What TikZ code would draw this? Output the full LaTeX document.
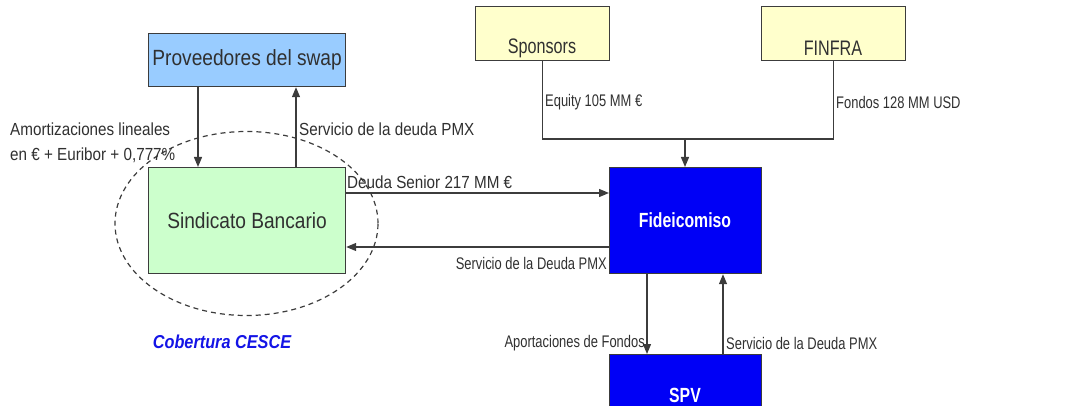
\documentclass[tikz,border=0pt]{standalone}
\usepackage{fontspec}
\setmainfont{Liberation Sans}
\newfontfamily\fA[FakeStretch=0.87]{Liberation Sans}
\newfontfamily\fB[FakeStretch=0.77]{Liberation Sans}
\usetikzlibrary{arrows.meta,calc}
\definecolor{provfill}{HTML}{99CCFF}
\definecolor{sindfill}{HTML}{CCFFCC}
\definecolor{sponfill}{HTML}{FFFFCC}
\definecolor{fidfill}{HTML}{0000F6}
\definecolor{linegray}{HTML}{3C3C3C}
\definecolor{txtgray}{HTML}{303030}
\definecolor{cesceblue}{HTML}{1414E6}
\tikzset{
  box/.style={draw=linegray, line width=1.2pt, inner sep=0pt, anchor=north west, text=txtgray},
  bluebox/.style={box, fill=fidfill},
  conn/.style={draw=linegray, line width=1.3pt},
  arr/.style={conn, -{Triangle[length=10pt,width=8pt]}},
  lbl/.style={inner sep=0pt, text=txtgray},
  lblA/.style={lbl, font=\fA\fontsize{17.5}{19}\selectfont},
  lblB/.style={lbl, font=\fB\fontsize{16.8}{18}\selectfont},
  bigtxt/.style={font=\fA\fontsize{22}{24}\selectfont},
  toptxt/.style={lbl, font=\fB\fontsize{21}{23}\selectfont},
  bluetxt/.style={inner sep=0pt, text=white, font=\fB\bfseries\fontsize{20.5}{22}\selectfont},
}
\begin{document}
\begin{tikzpicture}[x=1pt,y=-1pt]
\useasboundingbox (0,0) rectangle (1073,406);
\clip (0,0) rectangle (1073,406);
% ellipse (behind)
\coordinate (ellc) at (246.5,223.5);
\draw[linegray, line width=1.2pt, dash pattern=on 5pt off 4pt] (ellc) ellipse [x radius=131.5pt, y radius=92pt];
% boxes
\node[box, bigtxt, fill=provfill, minimum width=197pt, minimum height=53pt] (prov) at (148,33) {Proveedores del swap};
\node[box, bigtxt, fill=sindfill, minimum width=197pt, minimum height=106pt] (sind) at (148,167) {Sindicato Bancario};
\node[box, fill=sponfill, minimum width=134pt, minimum height=54pt] (spon) at (475,6) {};
\node[box, fill=sponfill, minimum width=144pt, minimum height=54pt] (fin) at (761,6) {};
\node[toptxt] (sponT) at (542,48) {Sponsors};
\node[toptxt] (finT) at (833,48) {FINFRA};
\node[bluebox, minimum width=152pt, minimum height=106pt] (fid) at (609,167) {};
\node[bluetxt] (fidT) at (685,220) {Fideicomiso};
\node[bluebox, minimum width=152pt, minimum height=82pt] (spv) at (609,354) {};
\node[bluetxt] (spvT) at (685,395) {SPV};
% connectors
\draw[arr] ([xshift=50pt]prov.south west) -- ([xshift=50pt]sind.north west);
\draw[arr] ([xshift=148pt]sind.north west) -- ([xshift=148pt]prov.south west);
\draw[arr] ([yshift=-26pt]sind.north east) -- ([yshift=-26pt]fid.north west);
\draw[arr] ([yshift=-80pt]fid.north west) -- ([yshift=-80pt]sind.north east);
\coordinate (join) at (685,139);
\draw[conn] (spon.south) |- (join) -| (fin.south);
\draw[arr] (join) -- (join |- fid.north);
\draw[arr] ([xshift=38pt]fid.south west) -- ([xshift=38pt]spv.north west);
\draw[arr] ([xshift=114pt]spv.north west) -- ([xshift=114pt]fid.south west);
% labels
\node[lblA, anchor=west] (l1) at (10,129) {Amortizaciones lineales};
\node[lblA, anchor=west] (l2) at (10,155) {en € + Euribor + 0,777\%};
\node[lblA, anchor=west] (l3) at (299,129) {Servicio de la deuda PMX};
\node[lblA, anchor=west] (l4) at (347,182) {Deuda Senior 217 MM €};
\node[lblB, anchor=east] (l5) at (607,263) {Servicio de la Deuda PMX};
\node[lblB, anchor=west] (l6) at (545,102) {Equity 105 MM €};
\node[lblB, anchor=west] (l7) at (836,102) {Fondos 128 MM USD};
\node[lblB, anchor=east] (l8) at (645,343) {Aportaciones de Fondos};
\node[lblB, anchor=west] (l9) at (726,343) {Servicio de la Deuda PMX};
\node[inner sep=0pt, text=cesceblue, font=\fA\bfseries\itshape\fontsize{18.7}{20}\selectfont] (cesce) at (222,342) {Cobertura CESCE};
\end{tikzpicture}
\end{document}
